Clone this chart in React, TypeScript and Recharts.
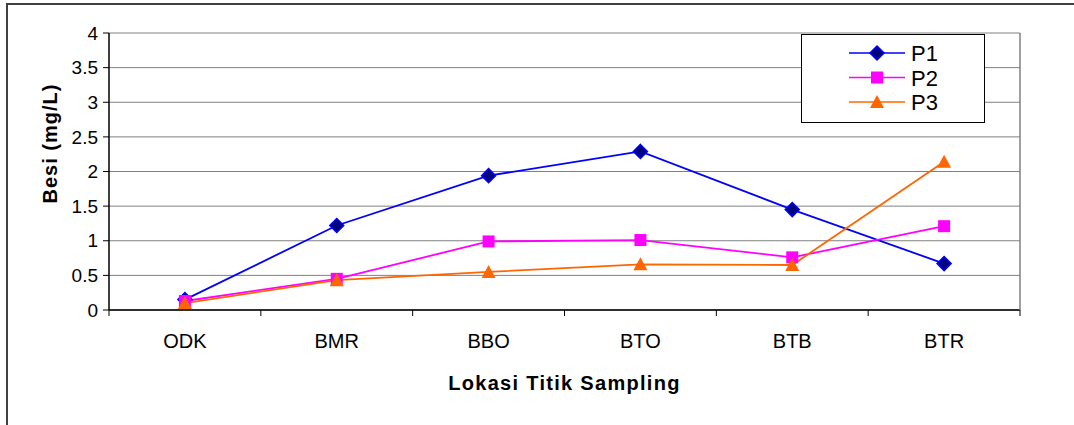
import React from 'react';
import { LineChart, Line, XAxis, YAxis, CartesianGrid, Legend } from 'recharts';

const locations = ['ODK', 'BMR', 'BBO', 'BTO', 'BTB', 'BTR'];
const p1 = [0.15, 1.22, 1.94, 2.29, 1.45, 0.67];
const p2 = [0.13, 0.45, 0.99, 1.01, 0.76, 1.21];
const p3 = [0.1, 0.43, 0.55, 0.66, 0.65, 2.14];
const yTicks = [0, 0.5, 1, 1.5, 2, 2.5, 3, 3.5, 4];

const data = locations.map((loc, i) => ({ loc, P1: p1[i], P2: p2[i], P3: p3[i] }));

const FONT = '"Liberation Sans", Arial, sans-serif';
const PLOT_W = 911;
const HALF = PLOT_W / locations.length / 2;

const Diamond = ({ cx, cy }: any) => (
    <polygon
        points={`${cx},${cy - 7} ${cx + 7},${cy} ${cx},${cy + 7} ${cx - 7},${cy}`}
        fill="#000080"
        stroke="#0000FF"
        strokeWidth={1.5}
    />
);
const Square = ({ cx, cy }: any) => <rect x={cx - 6} y={cy - 6} width={12} height={12} fill="#FF00FF" />;
const Triangle = ({ cx, cy }: any) => (
    <polygon points={`${cx},${cy - 7} ${cx + 7},${cy + 6} ${cx - 7},${cy + 6}`} fill="#FF6600" />
);

const series = [
    { key: 'P1', color: '#0000FF', Marker: Diamond },
    { key: 'P2', color: '#FF00FF', Marker: Square },
    { key: 'P3', color: '#FF6600', Marker: Triangle },
];

const XTick = (props: any) => {
    const { x, y, payload, index } = props;
    const last = index === locations.length - 1;
    return (
        <g>
            <line x1={x - HALF} x2={x - HALF} y1={y - 8} y2={y - 2} stroke="#000" />
            {last && <line x1={x + HALF} x2={x + HALF} y1={y - 8} y2={y - 2} stroke="#000" />}
            <text x={x} y={y + 30} textAnchor="middle" fontSize={20} fontFamily={FONT} fill="#000">
                {payload.value}
            </text>
        </g>
    );
};

const renderLegend = () => (
    <div style={{ width: 184, height: 89, border: '1px solid #000', background: '#fff', boxSizing: 'border-box' }}>
        <svg width={182} height={87}>
            {series.map((s, i) => {
                const y = 18 + i * 24.5;
                const M = s.Marker;
                return (
                    <g key={s.key}>
                        <line x1={47} x2={103} y1={y} y2={y} stroke={s.color} strokeWidth={1.5} />
                        <M cx={75} cy={y} />
                        <text x={109} y={y + 8} fontSize={22} fontFamily={FONT} fill="#000">
                            {s.key}
                        </text>
                    </g>
                );
            })}
        </svg>
    </div>
);

export default function App() {
    return (
        <div style={{ position: 'absolute', left: 0, top: 0, width: 1074, height: 425, overflow: 'hidden', background: '#fff' }}>
            <div
                style={{
                    position: 'absolute',
                    left: 6,
                    top: 3,
                    width: 2000,
                    height: 2000,
                    borderLeft: '2px solid #404040',
                    borderTop: '2px solid #404040',
                }}
            />
            <div style={{ position: 'absolute', left: 0, top: 0 }}>
                <LineChart width={1074} height={425} data={data} margin={{ top: 33, right: 0, left: 0, bottom: 0 }}>
                    <CartesianGrid horizontal vertical={false} stroke="#808080" strokeWidth={1} />
                    <XAxis
                        dataKey="loc"
                        height={115}
                        padding={{ left: HALF, right: HALF }}
                        axisLine={{ stroke: '#000', strokeWidth: 1.5 }}
                        tickLine={false}
                        tick={<XTick />}
                        interval={0}
                        label={{
                            content: (p: any) => {
                                const vb = p.viewBox;
                                return (
                                    <text
                                        x={vb.x + vb.width / 2}
                                        y={vb.y + 80}
                                        textAnchor="middle"
                                        fontSize={20}
                                        fontWeight="bold"
                                        letterSpacing={1.3}
                                        fontFamily={FONT}
                                        fill="#000"
                                    >
                                        Lokasi Titik Sampling
                                    </text>
                                );
                            },
                        }}
                    />
                    <YAxis
                        width={109}
                        domain={[0, 4]}
                        ticks={yTicks}
                        interval={0}
                        axisLine={{ stroke: '#000', strokeWidth: 1.5 }}
                        tickLine={{ stroke: '#000' }}
                        tickSize={6}
                        tickMargin={5}
                        tick={{ fontSize: 19, fontFamily: FONT, fill: '#000' }}
                        label={{
                            content: (p: any) => {
                                const vb = p.viewBox;
                                const cy = vb.y + vb.height / 2 - 28;
                                return (
                                    <text
                                        x={57}
                                        y={cy}
                                        transform={`rotate(-90, 57, ${cy})`}
                                        textAnchor="middle"
                                        fontSize={20}
                                        fontWeight="bold"
                                        letterSpacing={1}
                                        fontFamily={FONT}
                                        fill="#000"
                                    >
                                        Besi (mg/L)
                                    </text>
                                );
                            },
                        }}
                    />
                    <YAxis
                        yAxisId="r"
                        orientation="right"
                        width={54}
                        domain={[0, 4]}
                        tick={false}
                        tickLine={false}
                        axisLine={{ stroke: '#808080', strokeWidth: 1.5 }}
                    />
                    <Legend
                        layout="vertical"
                        align="center"
                        verticalAlign="middle"
                        content={renderLegend}
                        wrapperStyle={{ left: 801, top: 34, width: 184, height: 89 }}
                    />
                    {series.map(s => {
                        const M = s.Marker;
                        return (
                            <Line
                                key={s.key}
                                type="linear"
                                dataKey={s.key}
                                stroke={s.color}
                                strokeWidth={1.8}
                                dot={(d: any) => <M key={`${s.key}-${d.index}`} cx={d.cx} cy={d.cy} />}
                                activeDot={false}
                                isAnimationActive={false}
                            />
                        );
                    })}
                </LineChart>
            </div>
        </div>
    );
}
